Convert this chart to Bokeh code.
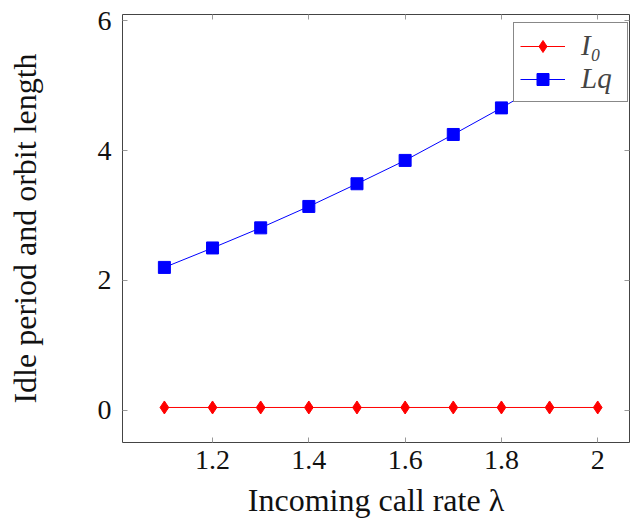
from bokeh.plotting import figure
from bokeh.models import Range1d, FixedTicker, LinearAxis, Legend
from bokeh.embed import file_html
from bokeh.resources import INLINE

# data
lam = [1.1, 1.2, 1.3, 1.4, 1.5, 1.6, 1.7, 1.8, 1.9, 2.0]
I0 = [0.04, 0.04, 0.04, 0.04, 0.04, 0.04, 0.04, 0.04, 0.04, 0.04]
Lq = [2.2, 2.5, 2.81, 3.14, 3.49, 3.85, 4.25, 4.66, 5.09, 5.55]
x_ticks = [1.2, 1.4, 1.6, 1.8, 2.0]
y_ticks = [0, 2, 4, 6]

FONT = "Liberation Serif"

p = figure(width=630, height=520, output_backend="svg", toolbar_location=None,
           x_range=Range1d(1.013, 2.066), y_range=Range1d(-0.5, 6.1),
           min_border_left=122, min_border_top=14, min_border_bottom=77,
           min_border_right=1)
p.xgrid.visible = False
p.ygrid.visible = False
p.outline_line_color = "#444444"
p.outline_line_width = 1
p.background_fill_color = "white"
p.border_fill_color = "white"

r1 = p.line(lam, I0, line_color="#ff0000", line_width=1)
s1 = p.scatter(lam, I0, marker="diamond", size=13, fill_color="#ff0000", line_color="#ff0000")
r2 = p.line(lam, Lq, line_color="#0000ff", line_width=1)
s2 = p.scatter(lam, Lq, marker="square", size=12, fill_color="#0000ff", line_color="#0000ff")

for ax in (p.xaxis[0], p.yaxis[0]):
    ax.axis_line_color = None
    ax.major_tick_in = 5
    ax.major_tick_out = 0
    ax.minor_tick_line_color = None
    ax.major_tick_line_color = "#999999"
    ax.major_label_text_font = FONT
    ax.major_label_text_font_size = "28px"
    ax.major_label_text_color = "#111111"
    ax.axis_label_text_font = FONT
    ax.axis_label_text_font_size = "32px"
    ax.axis_label_text_font_style = "normal"
    ax.axis_label_text_color = "#111111"

p.xaxis[0].ticker = FixedTicker(ticks=x_ticks)
p.xaxis[0].major_label_overrides = {2.0: "2"}
p.yaxis[0].ticker = FixedTicker(ticks=y_ticks)
p.xaxis[0].axis_label = "Incoming call rate λ"
p.yaxis[0].axis_label = "Idle period and orbit length"
p.xaxis[0].major_label_standoff = 8
p.xaxis[0].axis_label_standoff = 10
p.yaxis[0].major_label_standoff = 11
p.yaxis[0].axis_label_standoff = 52

for loc, tk in (("above", x_ticks), ("right", y_ticks)):
    ax = LinearAxis(ticker=FixedTicker(ticks=tk))
    ax.axis_line_color = None
    ax.major_tick_in = 5
    ax.major_tick_out = 0
    ax.minor_tick_line_color = None
    ax.major_tick_line_color = "#999999"
    ax.major_label_overrides = {t: "" for t in tk}
    ax.major_label_standoff = 0
    p.add_layout(ax, loc)

legend = Legend(items=[("I₀", [r1, s1]), ("Lq", [r2, s2])], location=(391, 340))
legend.label_text_font = FONT
legend.label_text_font_style = "italic"
legend.label_text_font_size = "29px"
legend.border_line_color = "#111111"
legend.border_line_width = 1
legend.background_fill_alpha = 1.0
legend.glyph_width = 45
legend.glyph_height = 30
legend.label_width = 40
legend.label_height = 30
legend.label_standoff = 16
legend.padding = 6
legend.spacing = 0
legend.margin = 0
p.add_layout(legend)

open("out.html", "w").write(file_html(p, INLINE))
